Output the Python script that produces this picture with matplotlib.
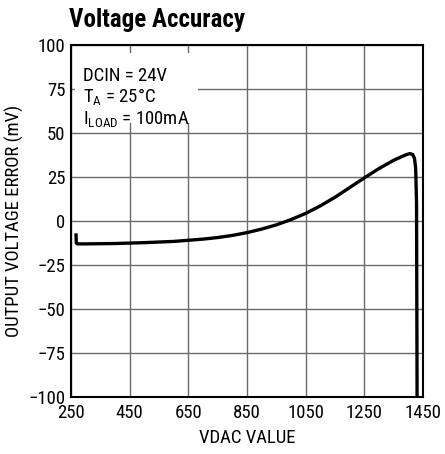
import matplotlib
matplotlib.use("Agg")
import matplotlib.pyplot as plt
from matplotlib.patches import Rectangle

plt.rcParams['font.family'] = ['Roboto Condensed', 'DejaVu Sans']
plt.rcParams['mathtext.fontset'] = 'custom'
plt.rcParams['mathtext.rm'] = 'Roboto Condensed'
plt.rcParams['axes.unicode_minus'] = True

# values
vdac = [267, 268, 272, 300, 400, 500, 600, 700, 750, 800, 850, 900, 950,
        1000, 1050, 1100, 1150, 1200, 1250, 1300, 1350, 1390, 1405, 1415,
        1421, 1425, 1428, 1429, 1430]
err = [-7, -12.5, -13, -13, -12.8, -12.3, -11.6, -10.3, -9.4, -8.2, -6.6,
       -4.6, -2.2, 0.8, 4.3, 8.6, 13.5, 19.0, 24.5, 29.8, 34.5, 37.5, 38.3,
       37.8, 35.5, 30, 10, -50, -110]

xticks = [250, 450, 650, 850, 1050, 1250, 1450]
yticks = [-100, -75, -50, -25, 0, 25, 50, 75, 100]
notes = ['DCIN = 24V', r'T$_{\rm A}$ = 25°C', r'I$_{\rm LOAD}$ = 100mA']

fig = plt.figure(figsize=(4.45, 4.54), dpi=100)
ax = fig.add_axes([71/445, 1 - 397/454, 352/445, 352/454])

ax.plot(vdac, err, color='black', lw=2.4, solid_joinstyle='round',
        solid_capstyle='butt', zorder=5)

ax.set_xlim(250, 1450)
ax.set_ylim(-100, 100)
ax.set_xticks(xticks)
ax.set_yticks(yticks)
ax.set_yticklabels([str(v).replace('-', '\u2212') for v in yticks])
ax.tick_params(length=0, labelsize=13.5)
ax.tick_params(axis='y', pad=4)
ax.tick_params(axis='x', pad=5)
ax.grid(True, color='#6a6a6a', lw=1.0)
ax.set_axisbelow(True)
for s in ax.spines.values():
    s.set_linewidth(1.5)

ax.set_xlabel('VDAC VALUE', fontsize=13.5, labelpad=5)
ax.set_ylabel('OUTPUT VOLTAGE ERROR (mV)', fontsize=13.5, labelpad=3)

# white patch behind the conditions text
ax.add_patch(Rectangle((0.011, 0.778), 0.35, 0.199, transform=ax.transAxes,
                       facecolor='white', edgecolor='none', zorder=3))
for i, s in enumerate(notes):
    ax.text(0.034, 0.912 - i * 0.062, s, transform=ax.transAxes,
            fontsize=13.5, va='center', ha='left', zorder=4)

fig.text(69/445, 1 - 20/454, 'Voltage Accuracy', fontsize=18,
         fontweight='bold', va='center', ha='left')

fig.savefig('out.png', dpi=100)
